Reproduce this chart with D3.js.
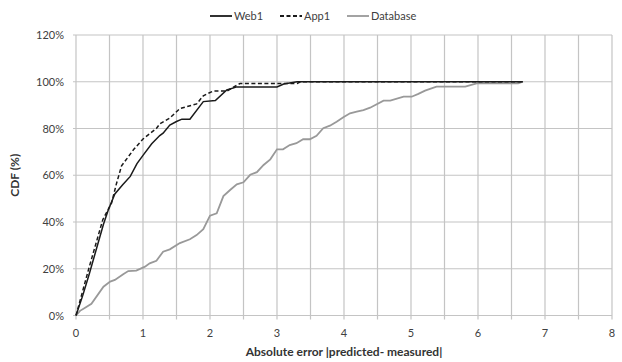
<!DOCTYPE html>
<html>
<head>
<meta charset="utf-8">
<script src="https://cdn.jsdelivr.net/npm/d3@7"></script>
<style>
  body { margin: 0; background: #fff; }
  svg { display: block; font-family: Lato, "Open Sans", sans-serif; }
</style>
</head>
<body>
<div id="chart"></div>
<script>
// data: [absolute error, CDF %]
const web1 = [[0,0],[0.1,8.5],[0.2,18],[0.3,28],[0.41,39],[0.48,45],[0.58,52],[0.7,56],[0.81,59.5],
  [0.91,65],[1.0,68.5],[1.13,73.5],[1.25,77],[1.3,78],[1.4,81.5],[1.5,83],[1.58,84],[1.7,84],
  [1.9,91.5],[2.08,92],[2.25,96.5],[2.4,97.8],[3.0,97.8],[3.1,99],[3.3,100],[6.67,100]]
const app1 = [[0,0],[0.1,10.5],[0.2,21],[0.3,31],[0.4,41],[0.53,48],[0.6,56],[0.68,64],[0.86,71],[1.0,75.5],
  [1.2,80],[1.25,82],[1.4,84.5],[1.55,88.5],[1.8,90.5],[1.9,94],[1.97,95],[2.05,96],[2.25,96],
  [2.45,99.3],[3.3,99.3],[3.35,100],[6.67,100]]
const database = [[0,0],[0.06,2],[0.13,3.2],[0.23,5],[0.41,12.3],[0.51,14.5],[0.58,15.2],[0.71,17.8],
  [0.78,19],[0.9,19.2],[1.03,20.9],[1.1,22.3],[1.2,23.4],[1.3,27.3],[1.4,28.3],[1.55,31],[1.7,32.6],
  [1.8,34.4],[1.9,36.9],[2.0,42.7],[2.1,43.7],[2.2,51.1],[2.3,53.7],[2.4,56.1],[2.5,57],[2.6,60.2],
  [2.7,61.3],[2.8,64.4],[2.9,66.8],[3.0,71.1],[3.09,71.1],[3.19,72.9],[3.29,73.7],[3.39,75.4],
  [3.49,75.4],[3.59,76.9],[3.69,80.1],[3.79,81.2],[3.89,82.9],[3.99,84.8],[4.09,86.5],[4.19,87.2],
  [4.29,87.9],[4.39,88.9],[4.59,91.9],[4.69,91.9],[4.89,93.6],[5.01,93.6],[5.11,94.8],[5.21,96.2],
  [5.38,97.9],[5.81,97.9],[5.98,99.3],[6.6,99.3],[6.67,100]]
const xTicks = [0,1,2,3,4,5,6,7,8]
const yTicks = [0,20,40,60,80,100,120]

const W = 622, H = 362
const margin = {top: 35, right: 10, bottom: 46.5, left: 76}

const svg = d3.select("#chart").append("svg")
  .attr("width", W)
  .attr("height", H)

const x = d3.scaleLinear().domain([0, 8]).range([margin.left, 612])
const y = d3.scaleLinear().domain([0, 120]).range([315.5, margin.top])

// grid
const grid = svg.append("g")
grid.selectAll(".vg")
  .data(d3.range(0, 8.01, 0.5))
  .enter().append("line")
  .attr("x1", d => x(d)).attr("x2", d => x(d))
  .attr("y1", y(120)).attr("y2", y(0) + 4)
  .style("stroke", "#c4c4c4")
  .style("stroke-width", "1.2px")
grid.selectAll(".hg")
  .data(yTicks)
  .enter().append("line")
  .attr("x1", x(0) - 3).attr("x2", x(8))
  .attr("y1", d => y(d)).attr("y2", d => y(d))
  .style("stroke", "#c4c4c4")
  .style("stroke-width", "1.2px")

// tick labels
svg.selectAll(".xl")
  .data(xTicks)
  .enter().append("text")
  .attr("x", d => x(d))
  .attr("y", 337)
  .attr("text-anchor", "middle")
  .style("font-size", "11px")
  .attr("fill", "#404040")
  .text(d => d)
svg.selectAll(".yl")
  .data(yTicks)
  .enter().append("text")
  .attr("x", 64)
  .attr("y", d => y(d) + 4)
  .attr("text-anchor", "end")
  .style("font-size", "11px")
  .attr("fill", "#404040")
  .text(d => d + "%")

// axis titles
svg.append("text")
  .attr("x", (x(0) + x(8)) / 2)
  .attr("y", 356)
  .attr("text-anchor", "middle")
  .style("font-size", "12px")
  .style("font-weight", "bold")
  .attr("fill", "#333")
  .text("Absolute error |predicted- measured|")
svg.append("text")
  .attr("transform", "translate(19," + ((y(0) + y(120)) / 2) + ") rotate(-90)")
  .attr("text-anchor", "middle")
  .style("font-size", "12px")
  .style("font-weight", "bold")
  .attr("fill", "#333")
  .text("CDF (%)")

// series
const series = [
  {name: "Database", values: database, color: "#999999", dash: null, width: 1.8},
  {name: "Web1", values: web1, color: "#1a1a1a", dash: null, width: 1.5},
  {name: "App1", values: app1, color: "#1a1a1a", dash: "4,2.5", width: 1.5}
]
const line = d3.line().x(d => x(d[0])).y(d => y(d[1]))
svg.selectAll(".serie")
  .data(series)
  .enter().append("path")
  .attr("d", d => line(d.values))
  .style("fill", "none")
  .style("stroke", d => d.color)
  .style("stroke-width", d => d.width + "px")
  .style("stroke-dasharray", d => d.dash)

// legend
const legendItems = [
  {name: "Web1", color: "#1a1a1a", dash: null, x0: 210},
  {name: "App1", color: "#1a1a1a", dash: "4,2.5", x0: 280},
  {name: "Database", color: "#999999", dash: null, x0: 347}
]
const lg = svg.selectAll(".legend")
  .data(legendItems)
  .enter().append("g")
  .attr("transform", d => "translate(" + d.x0 + ",16)")
lg.append("line")
  .attr("x1", 0).attr("x2", 22)
  .style("stroke", d => d.color)
  .style("stroke-width", "1.8px")
  .style("stroke-dasharray", d => d.dash)
lg.append("text")
  .attr("x", 24)
  .attr("y", 4)
  .style("font-size", "11px")
  .attr("fill", "#404040")
  .text(d => d.name)
</script>
</body>
</html>
